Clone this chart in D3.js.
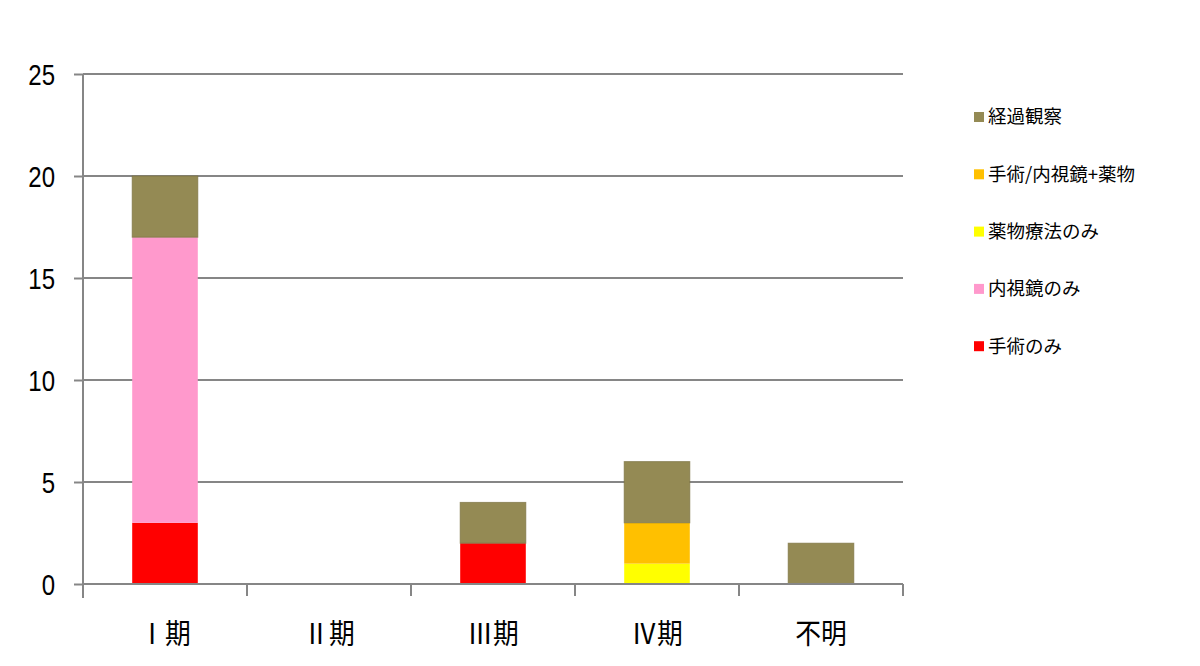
<!DOCTYPE html>
<html><head><meta charset="utf-8">
<script src="https://cdn.jsdelivr.net/npm/d3@7/dist/d3.min.js"></script>
<style>body{margin:0;background:#fff}</style>
</head><body>
<svg id="c" width="1200" height="666"></svg>
<script>
const categories = ["Ⅰ期", "Ⅱ期", "Ⅲ期", "Ⅳ期", "不明"];
const seriesNames = ["手術のみ", "内視鏡のみ", "薬物療法のみ", "手術/内視鏡+薬物", "経過観察"];
const surgeryOnly = [3, 0, 2, 0, 0];
const endoscopyOnly = [14, 0, 0, 0, 0];
const drugOnly = [0, 0, 0, 1, 0];
const combined = [0, 0, 0, 2, 0];
const observation = [3, 0, 2, 3, 2];
const yTicks = [0, 5, 10, 15, 20, 25];
const colors = ["#FF0000", "#FF99CC", "#FFFF00", "#FFC000", "#948A54"];

const seriesValues = [surgeryOnly, endoscopyOnly, drugOnly, combined, observation];
const rows = categories.map((c, i) => {
  const r = {cat: c};
  seriesNames.forEach((s, j) => r[s] = seriesValues[j][i]);
  return r;
});
const stack = d3.stack().keys(seriesNames)(rows);

const svg = d3.select("#c");
const x = d3.scaleBand().domain(categories).range([83, 903]).paddingInner(0).paddingOuter(0);
const y = d3.scaleLinear().domain([0, 25]).range([584, 74]);
const grid = "#868686";

// gridlines
svg.append("g").selectAll("line").data(yTicks.filter(t => t > 0)).join("line")
  .attr("x1", 83).attr("x2", 903).attr("y1", d => y(d)).attr("y2", d => y(d))
  .attr("stroke", grid).attr("stroke-width", 2);

// bars
const barW = x.bandwidth() * 0.4;
stack.forEach((layer, j) => {
  svg.append("g").selectAll("rect").data(layer.filter(d => d[1] - d[0] > 0)).join("rect")
    .attr("x", d => x(d.data.cat) + (x.bandwidth() - barW) / 2)
    .attr("width", barW)
    .attr("y", d => y(d[1]))
    .attr("height", d => y(d[0]) - y(d[1]))
    .attr("fill", colors[j])
    .attr("stroke", j === 4 ? "#7a7040" : "none")
    .attr("stroke-width", j === 4 ? 1 : 0)
    .attr("stroke-opacity", 0.7);
});

// y axis
const yAxis = d3.axisLeft(y).tickValues(yTicks).tickSize(9).tickPadding(19).tickFormat(d3.format("d"));
const gy = svg.append("g").attr("transform", "translate(83,0)").call(yAxis);
gy.select(".domain").attr("stroke", grid).attr("stroke-width", 2).attr("d", "M0,74V598");
gy.selectAll(".tick line").attr("stroke", grid).attr("stroke-width", 2);
gy.selectAll(".tick text").attr("font-family", "Liberation Sans, Arial, sans-serif")
  .attr("font-size", 30).attr("fill", "#000").attr("dy", "0.36em")
  .each(function() {
    const w = this.getComputedTextLength();
    d3.select(this).attr("textLength", w * 0.8).attr("lengthAdjust", "spacingAndGlyphs");
  });

// x axis
const xAxis = d3.axisBottom(x).tickSize(0).tickPadding(40);
const gx = svg.append("g").attr("transform", "translate(0,584)").call(xAxis);
gx.select(".domain").attr("stroke", grid).attr("stroke-width", 2).attr("d", "M83,0H903");
gx.selectAll(".tick text").attr("font-family", "Noto Sans CJK JP, sans-serif").attr("font-size", 28).attr("fill", "#000")
  .each(function() {
    const w = this.getComputedTextLength();
    d3.select(this).attr("textLength", w * 0.92).attr("lengthAdjust", "spacingAndGlyphs");
  });
const bounds = categories.map(c => x(c)).concat([x.range()[1]]);
gx.append("g").selectAll("line").data(bounds).join("line")
  .attr("x1", d => d).attr("x2", d => d).attr("y1", 0).attr("y2", 12)
  .attr("stroke", grid).attr("stroke-width", 2);

// legend (top to bottom: reversed series)
const legendItems = seriesNames.map((s, j) => ({name: s, color: colors[j]})).reverse();
const lg = svg.append("g");
legendItems.forEach((d, i) => {
  const yy = 117 + i * 57.3;
  lg.append("rect").attr("x", 974).attr("y", yy - 5).attr("width", 10).attr("height", 10).attr("fill", d.color);
  lg.append("text").attr("x", 988).attr("y", yy).attr("dy", "0.35em")
    .attr("font-family", "Noto Sans CJK JP, sans-serif").attr("font-size", 18.5).attr("fill", "#000").text(d.name);
});
</script>
</body></html>
